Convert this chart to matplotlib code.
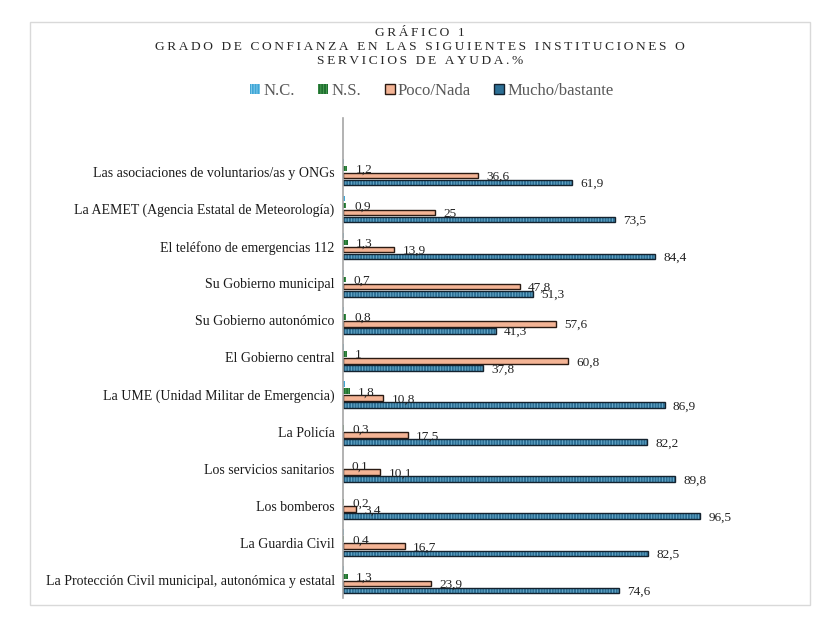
import numpy as np
import matplotlib.pyplot as plt
from matplotlib.patches import Rectangle, Patch

plt.rcParams['font.family'] = ['Liberation Serif', 'DejaVu Serif']
plt.rcParams['hatch.linewidth'] = 0.6

categorias = ['Las asociaciones de voluntarios/as y ONGs',
              'La AEMET (Agencia Estatal de Meteorología)',
              'El teléfono de emergencias 112',
              'Su Gobierno municipal',
              'Su Gobierno autonómico',
              'El Gobierno central',
              'La UME (Unidad Militar de Emergencia)',
              'La Policía',
              'Los servicios sanitarios',
              'Los bomberos',
              'La Guardia Civil',
              'La Protección Civil municipal, autonómica y estatal']

nc = [0.3, 0.6, 0.4, 0.2, 0.3, 0.4, 0.5, 0.0, 0.0, 0.0, 0.4, 0.2]
ns = [1.2, 0.9, 1.3, 0.7, 0.8, 1.0, 1.8, 0.3, 0.1, 0.2, 0.4, 1.3]
poco = [36.6, 25.0, 13.9, 47.8, 57.6, 60.8, 10.8, 17.5, 10.1, 3.4, 16.7, 23.9]
mucho = [61.9, 73.5, 84.4, 51.3, 41.3, 37.8, 86.9, 82.2, 89.8, 96.5, 82.5, 74.6]

series_names = ['N.C.', 'N.S.', 'Poco/Nada', 'Mucho/bastante']

W, H = 829, 634
fig = plt.figure(figsize=(W / 100, H / 100), dpi=100)
ax = fig.add_axes([343 / W, 1 - 598 / H, (713 - 343) / W, (598 - 118) / H])

y = np.arange(len(categorias))
slot = 0.19
bh = 0.15
rayas = '|' * 6

# N.C.
ax.barh(y - 1.5 * slot, nc, height=bh, color='#3fa6d6', edgecolor='#8fd0ee',
        hatch=rayas, linewidth=0)
# N.S.
ax.barh(y - 0.5 * slot, ns, height=bh, color='#1f7030', edgecolor='#4fa255',
        hatch=rayas, linewidth=0)
# Poco/Nada
ax.barh(y + 0.5 * slot, poco, height=bh, color='#f4b495', edgecolor='#2a1a12',
        linewidth=1.0)
# Mucho/bastante
ax.barh(y + 1.5 * slot, mucho, height=bh, color='#2c6f95', edgecolor='#72b3d2',
        hatch=rayas, linewidth=0)
ax.barh(y + 1.5 * slot, mucho, height=bh, fill=False, edgecolor='#14222e',
        linewidth=1.0)


def fmt(v):
    return ('%g' % v).replace('.', ',')


for serie, off in [(ns, -0.5), (poco, 0.5), (mucho, 1.5)]:
    for i, v in enumerate(serie):
        ax.annotate(fmt(v), (v, y[i] + off * slot), xytext=(6, -1),
                    textcoords='offset points', ha='left', va='center',
                    fontsize=9.5, color='#222222')

ax.set_xlim(0, 100)
ax.set_ylim(len(categorias) - 0.51, -1.455)
ax.set_yticks(y)
ax.set_yticklabels(categorias, fontsize=10, color='#1a1a1a')
ax.tick_params(axis='y', length=0, pad=6)
ax.set_xticks([])
for s in ['top', 'right', 'bottom']:
    ax.spines[s].set_visible(False)
ax.spines['left'].set_color('#a6a6a6')
ax.spines['left'].set_linewidth(1.2)


def espaciar(t):
    return '\u2009'.join(list(t))


titulo = ['GRÁFICO 1',
          'GRADO DE CONFIANZA EN LAS SIGUIENTES INSTITUCIONES O',
          'SERVICIOS DE AYUDA.%']
for k, linea in enumerate(titulo):
    fig.text(420 / W, 1 - (33 + 14 * k) / H, espaciar(linea), ha='center',
             va='center', fontsize=9.6, color='#262626')

handles = [Patch(facecolor='#3fa6d6', edgecolor='#8fd0ee', hatch=rayas, linewidth=0),
           Patch(facecolor='#1f7030', edgecolor='#4fa255', hatch=rayas, linewidth=0),
           Patch(facecolor='#f4b495', edgecolor='#2a1a12', linewidth=1.0),
           Patch(facecolor='#2c6f95', edgecolor='#14222e', linewidth=1.0)]
fig.legend(handles, series_names, loc='center', ncol=4,
           bbox_to_anchor=(432 / W, 1 - 91 / H), frameon=False, fontsize=12,
           handlelength=0.6, handleheight=0.6, handletextpad=0.2,
           columnspacing=1.4, labelcolor='#595959')

fig.add_artist(Rectangle((30 / W, 1 - 605 / H), 780 / W, 583 / H, fill=False,
                         edgecolor='#d9d9d9', linewidth=1.0,
                         transform=fig.transFigure))

fig.savefig('out.png', dpi=100)
